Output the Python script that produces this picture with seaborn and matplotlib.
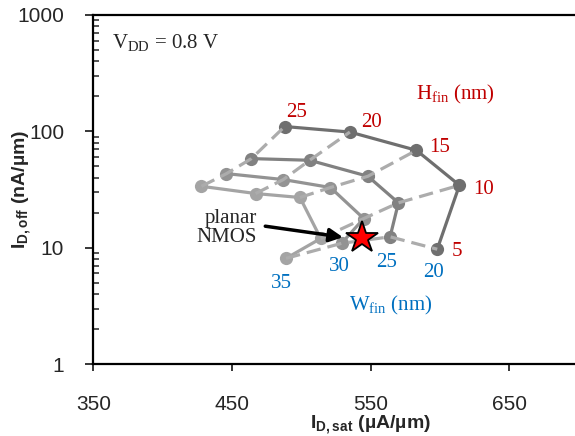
import numpy as np
import pandas as pd
import seaborn as sns
import matplotlib.pyplot as plt
from matplotlib.ticker import FixedLocator, NullFormatter

# fin width / fin height sweep
W_fin = [35, 30, 25, 20]
H_fin = [25, 20, 15, 10, 5]

# I_D,sat (uA/um), one row per W_fin, columns follow H_fin
I_sat = [
    [428, 467, 499, 514, 489],
    [446, 487, 521, 545, 529],
    [464, 506, 548, 570, 564],
    [488, 535, 583, 614, 598],
]
# I_D,off (nA/um)
I_off = [
    [33.7, 29.2, 27.0, 12.0, 8.1],
    [43.3, 38.5, 32.9, 17.8, 10.9],
    [58.3, 56.4, 41.1, 24.3, 12.4],
    [110, 98.6, 68.7, 34.4, 9.7],
]

planar_sat = 543.5
planar_off = 12.0

rows = []
for i, w in enumerate(W_fin):
    for j, h in enumerate(H_fin):
        rows.append({'W': w, 'H': h, 'Isat': I_sat[i][j], 'Ioff': I_off[i][j]})
df = pd.DataFrame(rows)

sns.set_style('ticks')
plt.rcParams['font.family'] = ['Liberation Sans', 'DejaVu Sans']

RED = '#c00000'
BLUE = '#0070c0'
SERIF = ['Liberation Serif', 'DejaVu Serif']
pal = {35: '#a4a4a4', 30: '#939393', 25: '#818181', 20: '#6f6f6f'}

fig = plt.figure(figsize=(5.75, 4.36), dpi=100)
ax = fig.add_axes([0.1623, 0.1651, 0.9647, 0.8005])

# constant W_fin: solid lines with markers
sns.lineplot(data=df, x='Isat', y='Ioff', hue='W', palette=pal, units='W',
             estimator=None, sort=False, marker='o', markersize=9.5,
             markeredgewidth=0, linewidth=2.3, legend=False, ax=ax)
# constant H_fin: dashed lines
sns.lineplot(data=df, x='Isat', y='Ioff', units='H', estimator=None, sort=False,
             color='#acacac', linestyle=(0, (4.5, 2.2)), linewidth=2.3,
             legend=False, ax=ax)

ax.plot([planar_sat], [planar_off], marker='*', color='red', markersize=24,
        markeredgecolor='black', markeredgewidth=1.3, zorder=5)

ax.set_yscale('log')
ax.set_xlim(350, 750)
ax.set_ylim(1, 1000)
ax.set_xticks([350, 450, 550, 650])
ax.set_yticks([1, 10, 100, 1000])
ax.set_yticklabels(['1', '10', '100', '1000'])
ax.yaxis.set_minor_locator(FixedLocator([m * 10.0**e for e in range(0, 3) for m in range(2, 10)]))
ax.yaxis.set_minor_formatter(NullFormatter())
ax.tick_params(axis='x', direction='out', length=5, width=1.3, pad=17, labelsize=15)
ax.tick_params(axis='y', which='major', direction='out', length=6, width=1.3, pad=15, labelsize=15)
ax.tick_params(axis='y', which='minor', direction='in', length=4, width=1.1)
for s in ax.spines.values():
    s.set_linewidth(1.6)
    s.set_color('black')

ax.set_xlabel(r'I$_{\mathregular{D,sat}}$ (µA/µm)', fontsize=14, fontweight='bold', labelpad=0)
ax.set_ylabel(r'I$_{\mathregular{D,off}}$ (nA/µm)', fontsize=14, fontweight='bold', labelpad=-12)

# H_fin labels beside the W_fin = 20 points
h_off = [(12, 14), (22, 10), (23, 3), (24, -4), (20, -2)]
for j, h in enumerate(H_fin):
    ax.annotate(str(h), (I_sat[3][j], I_off[3][j]), xytext=h_off[j], textcoords='offset pixels',
                ha='center', va='center', color=RED, fontsize=15, family=SERIF)
# W_fin labels below the H_fin = 5 points
w_off = [(-5, -25), (-2, -23), (-4, -26), (-4, -23)]
for i, w in enumerate(W_fin):
    ax.annotate(str(w), (I_sat[i][4], I_off[i][4]), xytext=w_off[i], textcoords='offset pixels',
                ha='center', va='center', color=BLUE, fontsize=15, family=SERIF)

ax.text(0.033, 0.92, r'V$_{\mathregular{DD}}$ = 0.8 V', transform=ax.transAxes,
        fontsize=15, family=SERIF, va='center')
ax.text(0.652, 0.771, r'H$_{\mathregular{fin}}$ (nm)', transform=ax.transAxes,
        fontsize=15, family=SERIF, color=RED, va='center', ha='center')
ax.text(0.536, 0.169, r'W$_{\mathregular{fin}}$ (nm)', transform=ax.transAxes,
        fontsize=15, family=SERIF, color=BLUE, va='center', ha='center')

ax.text(468, 14.7, 'planar\nNMOS', fontsize=15, family=SERIF, ha='right', va='center',
        linespacing=1.0)
ax.annotate('', xy=(530, 12.3), xytext=(474, 15.3),
            arrowprops=dict(arrowstyle='-|>', color='black', lw=2.5, mutation_scale=20,
                            shrinkA=0, shrinkB=0))

fig.savefig('out.png', dpi=100)
